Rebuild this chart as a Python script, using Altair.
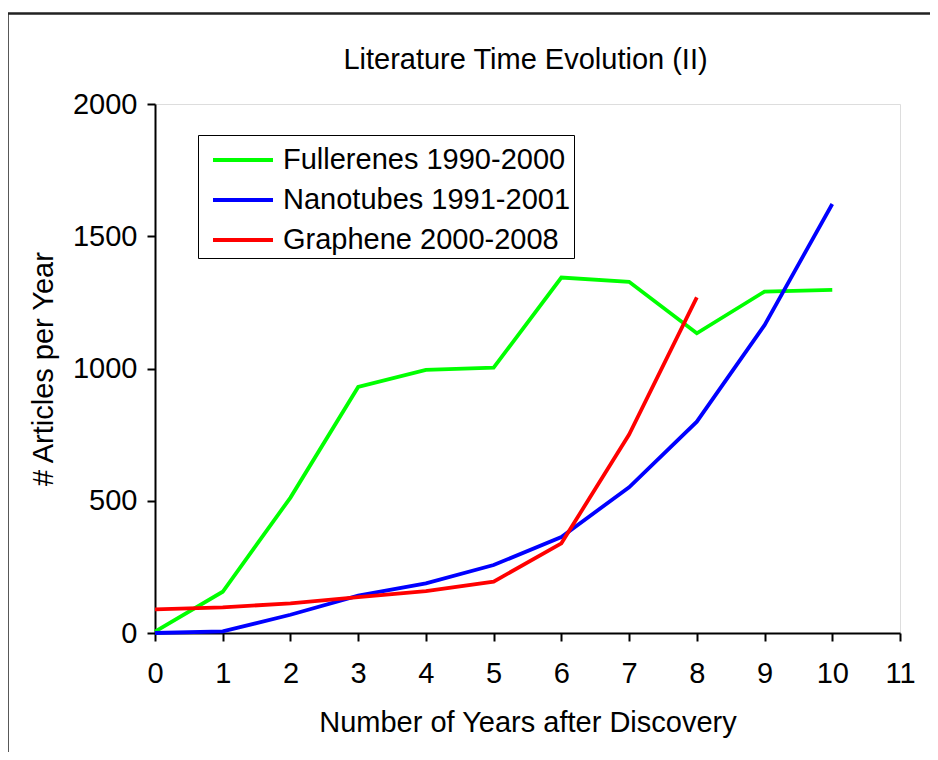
import altair as alt
import pandas as pd

years = list(range(11))
fullerenes = [5, 156, 512, 930, 995, 1003, 1344, 1328, 1133, 1291, 1297]
nanotubes = [0, 6, 69, 141, 188, 257, 363, 551, 799, 1164, 1622]
graphene_years = list(range(9))
graphene = [89, 97, 112, 136, 158, 194, 339, 750, 1269]

series_names = ["Fullerenes 1990-2000", "Nanotubes 1991-2001", "Graphene 2000-2008"]
series_colors = ["#00FF00", "#0000FF", "#FF0000"]
title_text = "Literature Time Evolution (II)"

rows = []
for x, v in zip(years, fullerenes):
    rows.append({"year": x, "value": v, "series": series_names[0]})
for x, v in zip(years, nanotubes):
    rows.append({"year": x, "value": v, "series": series_names[1]})
for x, v in zip(graphene_years, graphene):
    rows.append({"year": x, "value": v, "series": series_names[2]})
df = pd.DataFrame(rows)

FONT = "Liberation Sans"
FS = 29

lines = alt.Chart(df).mark_line(strokeWidth=3.8, clip=False).encode(
    x=alt.X("year:Q",
            scale=alt.Scale(domain=[0, 11], nice=False, zero=True),
            axis=alt.Axis(values=list(range(12)), title="Number of Years after Discovery",
                          format="d", grid=False, domainColor="black", domainWidth=2,
                          tickColor="black", tickWidth=2, tickSize=8, labelFlush=False,
                          labelFontSize=FS, labelPadding=18, labelColor="black",
                          labelFont=FONT, titleFont=FONT, titleFontSize=FS,
                          titleFontWeight="normal", titleColor="black", titlePadding=20)),
    y=alt.Y("value:Q",
            scale=alt.Scale(domain=[0, 2000], nice=False),
            axis=alt.Axis(values=[0, 500, 1000, 1500, 2000], title="# Articles per Year",
                          format="d", grid=False, domainColor="black", domainWidth=2,
                          tickColor="black", tickWidth=2, tickSize=8, labelFlush=False,
                          labelFontSize=FS, labelPadding=10, labelColor="black",
                          labelFont=FONT, titleFont=FONT, titleFontSize=FS,
                          titleFontWeight="normal", titleColor="black", titlePadding=14)),
    color=alt.Color("series:N",
                    scale=alt.Scale(domain=series_names, range=series_colors),
                    sort=series_names,
                    legend=alt.Legend(title=None, orient="none", legendX=43, legendY=31,
                                      symbolType="M-0.5,0L2.5,0", symbolSize=1600,
                                      symbolStrokeWidth=4, labelFontSize=FS,
                                      labelFont=FONT, labelColor="black", labelOffset=38,
                                      rowPadding=3, padding=3,
                                      strokeColor="black", fillColor="white",
                                      labelLimit=400)),
)

title = alt.Chart(pd.DataFrame({"t": [title_text]})).mark_text(
    font=FONT, fontSize=29, color="black", align="center", baseline="alphabetic"
).encode(x=alt.value(370.5), y=alt.value(-35), text="t:N")

frame = alt.Chart(pd.DataFrame({"f": [0]})).mark_rect(
    fill=None, stroke="#222222", strokeWidth=2.5, clip=False
).encode(
    x=alt.value(-147.5), x2=alt.value(820), y=alt.value(-90.5), y2=alt.value(700)
)

chart = alt.layer(frame, title, lines).properties(
    width=745, height=529,
    autosize=alt.AutoSizeParams(type="none"),
    padding={"left": 147, "top": 96, "right": 30, "bottom": 119},
).configure_view(stroke="black", strokeWidth=2).configure(background="white")

chart.save("out.html", embed_options={"renderer": "svg", "actions": False})
